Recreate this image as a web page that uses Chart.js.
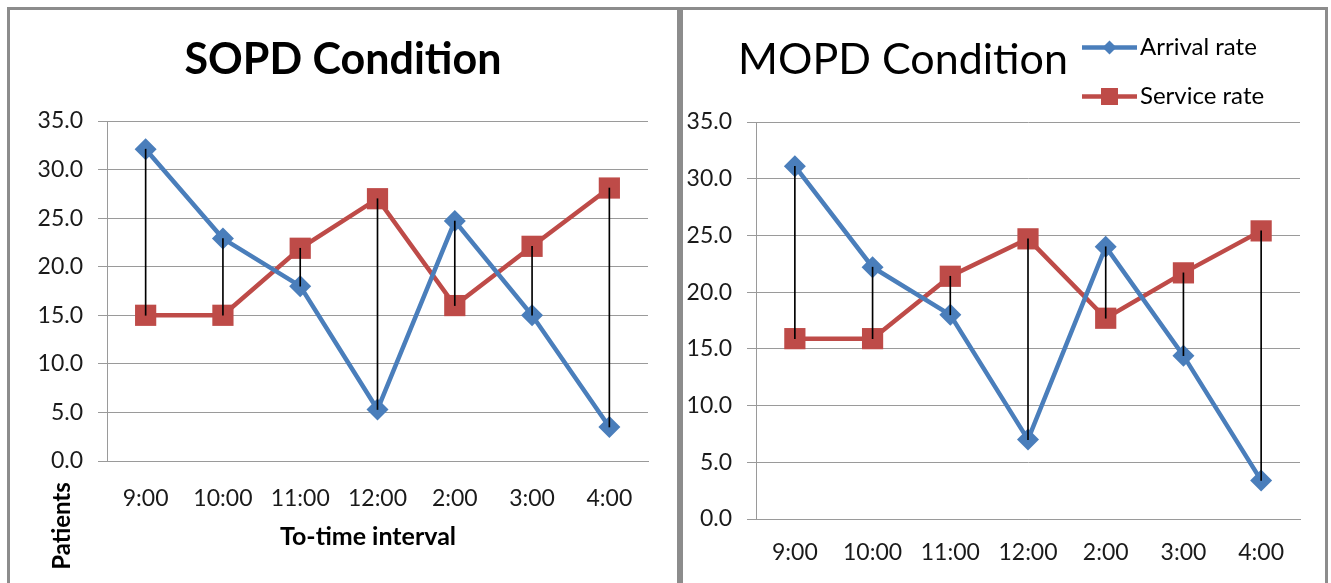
<!DOCTYPE html>
<html>
<head>
<meta charset="utf-8">
<script src="https://cdn.jsdelivr.net/npm/chart.js@4.4.1/dist/chart.umd.min.js"></script>
<style>
  body { margin: 0; background: #fff; width: 1331px; height: 583px; overflow: hidden; position: relative; }
  .panel { position: absolute; top: 7px; height: 620px; border: 3px solid #8c8c8c; box-sizing: border-box; }
  #leftPanel { left: 7px; width: 673px; }
  #rightPanel { left: 680px; width: 648px; }
  canvas { position: absolute; }
  #sopd { left: 10px; top: 10px; }
  #mopd { left: 683px; top: 10px; }
</style>
</head>
<body>
<div class="panel" id="leftPanel"></div>
<div class="panel" id="rightPanel"></div>
<canvas id="sopd" width="667" height="573"></canvas>
<canvas id="mopd" width="642" height="573"></canvas>
<script>
const timeLabels = ['9:00', '10:00', '11:00', '12:00', '2:00', '3:00', '4:00'];
const sopdArrival = [32.1, 22.9, 18.0, 5.3, 24.7, 15.0, 3.5];
const sopdService = [15.0, 15.0, 21.9, 27.0, 16.0, 22.1, 28.1];
const mopdArrival = [31.1, 22.2, 18.0, 7.0, 24.0, 14.4, 3.4];
const mopdService = [15.9, 15.9, 21.4, 24.7, 17.7, 21.7, 25.4];
const seriesNames = ['Arrival rate', 'Service rate'];
const yMin = 0, yMax = 35, yStep = 5;

const FONT = 'Lato, "Open Sans", sans-serif';
const BLUE = '#4a7ebb';
const RED = '#be4b48';
const GRID = '#9a9a9a';

// free text (chart titles, axis names) at fixed canvas spots
const panelText = {
    id: 'panelText',
    afterDraw(chart, args, opts) {
        const ctx = chart.ctx;
        (opts.items || []).forEach(t => {
            ctx.save();
            ctx.translate(t.x, t.y);
            if (t.rotate) ctx.rotate(t.rotate);
            ctx.font = t.font;
            ctx.fillStyle = '#000';
            ctx.textAlign = 'center';
            ctx.textBaseline = 'middle';
            ctx.fillText(t.text, 0, 0);
            ctx.restore();
        });
    }
};

// legend drawn as line + marker, stacked, like Excel
const sideLegend = {
    id: 'sideLegend',
    afterDraw(chart, args, o) {
        if (!o.display) return;
        const ctx = chart.ctx;
        chart.data.datasets.filter(d => d.type === 'line').forEach((d, i) => {
            const y = o.y + i * o.rowGap;
            ctx.save();
            ctx.strokeStyle = d.borderColor;
            ctx.lineWidth = d.borderWidth;
            ctx.beginPath();
            ctx.moveTo(o.x, y);
            ctx.lineTo(o.x + o.lineLength, y);
            ctx.stroke();
            ctx.fillStyle = d.pointBackgroundColor;
            Chart.helpers.drawPoint(ctx, { pointStyle: d.pointStyle, radius: o.radius[i], rotation: 0, borderWidth: 0 },
                o.x + o.lineLength / 2, y);
            ctx.fillStyle = '#000';
            ctx.font = o.font;
            ctx.textAlign = 'left';
            ctx.textBaseline = 'middle';
            ctx.fillText(d.label, o.x + o.lineLength + o.gap, y);
            ctx.restore();
        });
    }
};

function makeChart(id, arrival, service, lay) {
    return new Chart(document.getElementById(id), {
        type: 'line',
        data: {
            labels: timeLabels,
            datasets: [
                {
                    type: 'bar',
                    label: 'high-low',
                    data: arrival.map((a, i) => [a, service[i]]),
                    backgroundColor: '#000',
                    barThickness: 1,
                    borderWidth: 0,
                    order: 0
                },
                {
                    type: 'line',
                    label: seriesNames[0],
                    data: arrival,
                    borderColor: BLUE,
                    borderWidth: 4.5,
                    pointStyle: 'rectRot',
                    pointRadius: 11,
                    pointBackgroundColor: BLUE,
                    pointBorderColor: BLUE,
                    pointBorderWidth: 0,
                    tension: 0,
                    order: 1
                },
                {
                    type: 'line',
                    label: seriesNames[1],
                    data: service,
                    borderColor: RED,
                    borderWidth: 4.5,
                    pointStyle: 'rect',
                    pointRadius: 15,
                    pointBackgroundColor: RED,
                    pointBorderColor: RED,
                    pointBorderWidth: 0,
                    tension: 0,
                    order: 1
                }
            ]
        },
        options: {
            responsive: false,
            animation: false,
            layout: { padding: lay.padding },
            plugins: {
                legend: { display: false },
                title: { display: false },
                tooltip: { enabled: false },
                panelText: { items: lay.texts },
                sideLegend: lay.legend
            },
            scales: {
                x: {
                    offset: true,
                    afterFit: s => { s.height = lay.xHeight; },
                    grid: { display: false },
                    border: { color: GRID },
                    ticks: { color: '#1a1a1a', font: { family: FONT, size: 23 }, padding: lay.xPad, maxRotation: 0 }
                },
                y: {
                    min: yMin,
                    max: yMax,
                    afterFit: s => { s.width = lay.yWidth; },
                    grid: { color: GRID, tickLength: 9, tickColor: GRID },
                    border: { color: GRID },
                    ticks: {
                        stepSize: yStep,
                        color: '#1a1a1a',
                        padding: 15,
                        font: { family: FONT, size: 23 },
                        callback: v => v.toFixed(1)
                    }
                }
            }
        },
        plugins: [panelText, sideLegend]
    });
}

makeChart('sopd', sopdArrival, sopdService, {
    padding: { top: 111, left: 0, right: 29, bottom: 62 },
    yWidth: 97,
    xHeight: 60,
    xPad: 16,
    texts: [
        { text: 'SOPD Condition', x: 333, y: 50, font: 'bold 43px ' + FONT },
        { text: 'To-time interval', x: 358, y: 527, font: 'bold 25px ' + FONT },
        { text: 'Patients', x: 52, y: 516, rotate: -Math.PI / 2, font: 'bold 24px ' + FONT }
    ],
    legend: { display: false }
});

makeChart('mopd', mopdArrival, mopdService, {
    padding: { top: 112, left: 0, right: 25, bottom: 14 },
    yWidth: 73,
    xHeight: 50,
    xPad: 12,
    texts: [
        { text: 'MOPD Condition', x: 220, y: 50, font: '43px ' + FONT }
    ],
    legend: { display: true, x: 399, y: 37.5, rowGap: 49, lineLength: 55, gap: 3, radius: [7, 12], font: '24px ' + FONT }
});
</script>
</body>
</html>
